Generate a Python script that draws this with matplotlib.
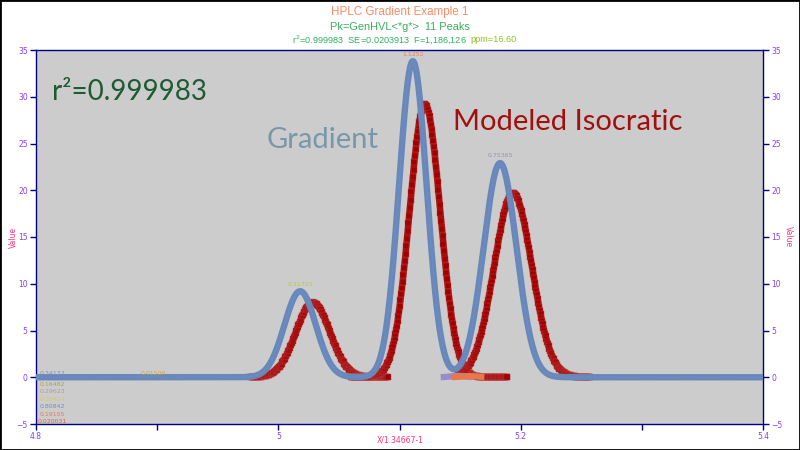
import numpy as np
import matplotlib
matplotlib.use("Agg")
import matplotlib.pyplot as plt
from matplotlib.patches import Rectangle

# ---- data ----
grad_centers = [5.018, 5.111, 5.183]
grad_heights = [9.2, 33.8, 22.9]
grad_widths = [0.0130, 0.0114, 0.0136]

iso_centers = [5.0286, 5.121, 5.1937]
iso_heights = [8.0, 29.2, 19.7]
iso_widths = [0.0140, 0.0127, 0.0155]
iso_starts = [4.977, 5.060, 5.148]
iso_ends = [5.0905, 5.1895, 5.2572]

minor_centers = [5.148, 5.158]
minor_heights = [0.15, 0.12]
minor_widths = [0.006, 0.007]
minor_starts = [5.134, 5.143]
minor_ends = [5.160, 5.170]
minor_colors = ["#9a8ccc", "#e8784c"]

peak_labels = ["0.31725", "1.1252", "0.75365"]
peak_label_colors = ["#b8c840", "#e8805c", "#9494b4"]

side_labels = ["0.16482", "0.29623", "0.30454", "0.80842", "0.19105", "0.020031"]
side_label_colors = ["#a8a840", "#b89898", "#e8c840", "#7090c8", "#e87858", "#e86030"]

x_min, x_max = 4.8, 5.4
y_min, y_max = -5, 35
y_ticks = list(range(-5, 40, 5))
x_ticks = [4.8, 4.9, 5.0, 5.1, 5.2, 5.3, 5.4]
x_tick_labels = ["4.8", "", "5", "", "5.2", "", "5.4"]


def gauss(x, c, h, w):
    return h * np.exp(-0.5 * ((x - c) / w) ** 2)


fig = plt.figure(figsize=(8, 4.5), dpi=100)
fig.patch.set_facecolor("white")
ax = fig.add_axes([36 / 800, 1 - 424 / 450, (763 - 36) / 800, (424 - 50) / 450])
ax.set_facecolor("#cccccc")

tick_col = "#8040ff"
spine_col = "#000080"
label_col = "#ff3377"

# gradient (blue) full curve
xs = np.linspace(x_min, x_max, 3000)
yg = np.zeros_like(xs)
for c, h, w in zip(grad_centers, grad_heights, grad_widths):
    yg += gauss(xs, c, h, w)

# isocratic (red) truncated peaks
for c, h, w, s, e in zip(iso_centers, iso_heights, iso_widths, iso_starts, iso_ends):
    xr = np.arange(s, e, 0.0006)
    yr = gauss(xr, c, h, w)
    ax.plot(xr, yr, color="#a00000", lw=4.6, solid_capstyle="butt", zorder=3)
    ax.plot(xr, yr, ls="none", marker="s", ms=4.0, mfc="#a00000",
            mec="#c04848", mew=0.3, zorder=3)

# minor components
for c, h, w, s, e, col in zip(minor_centers, minor_heights, minor_widths,
                              minor_starts, minor_ends, minor_colors):
    xm = np.arange(s, e, 0.0006)
    ym = gauss(xm, c, h, w)
    ax.plot(xm, ym, color=col, lw=4.5, zorder=4, solid_capstyle="butt")

ax.plot(xs, yg, color="#6888bc", lw=4.6, zorder=5, solid_capstyle="butt")
ax.plot(xs, yg, color="#7c98c8", lw=0.6, ls=(0, (1, 2)), zorder=6)

ax.set_xlim(x_min, x_max)
ax.set_ylim(y_min, y_max)
ax.set_yticks(y_ticks)
ax.set_xticks(x_ticks)
ax.set_xticklabels(x_tick_labels)

for sp in ax.spines.values():
    sp.set_color(spine_col)
    sp.set_linewidth(1.0)

ax.tick_params(axis="both", direction="out", colors=spine_col, labelcolor=tick_col,
               labelsize=5.5, length=4, width=1.0, pad=2)
ax.tick_params(axis="y", left=True, right=True, labelleft=True, labelright=True)
ax.tick_params(axis="x", top=False)

fig.text(13 / 800, 1 - 237 / 450, "Value", color=label_col, fontsize=5.5,
         rotation=90, ha="center", va="center")
fig.text(788 / 800, 1 - 237 / 450, "Value", color=label_col, fontsize=5.5,
         rotation=270, ha="center", va="center")
fig.text(400 / 800, 1 - 440 / 450, "X/1.34667-1", color=label_col, fontsize=5.5,
         ha="center", va="center")

# titles
fig.text(0.5, 1 - 12 / 450, "HPLC Gradient Example 1", color="#f88c68",
         fontsize=8.4, ha="center", va="center", family="Liberation Sans")
fig.text(0.5, 1 - 27 / 450, "Pk=GenHVL<*g*>  11 Peaks", color="#38b060",
         fontsize=7.9, ha="center", va="center", family="Liberation Sans")
fig.text(292 / 800, 1 - 40 / 450, "r$^2$=0.999983  SE=0.0203913  F=1,186,126", color="#30b060",
         fontsize=6.6, ha="left", va="center", family="Liberation Sans")
fig.text(517 / 800, 1 - 40 / 450, "ppm=16.60", color="#90c020",
         fontsize=6.6, ha="right", va="center", family="Liberation Sans")

# big annotations
ax.text(4.8132, 30.5, "r²=0.999983", color="#1e5a32", fontsize=20,
        family="Lato", ha="left", va="center")
ax.text(4.9906, 25.4, "Gradient", color="#7898aa", fontsize=21,
        family="Lato", ha="left", va="center")
ax.text(5.1442, 27.3, "Modeled Isocratic", color="#a01010", fontsize=21,
        family="Lato", ha="left", va="center")

# peak labels
for c, h, lab, col in zip(grad_centers, grad_heights, peak_labels, peak_label_colors):
    ax.text(c, h + 0.5, lab, color=col, fontsize=4.5, ha="center", va="bottom", zorder=7)

ax.text(4.803, 0.1, "0.34137", color="#8090b8", fontsize=4.5, ha="left", va="bottom", zorder=7)
ax.text(4.886, 0.1, "0.01509", color="#c8a848", fontsize=4.5, ha="left", va="bottom", zorder=7)
for i, (lab, col) in enumerate(zip(side_labels, side_label_colors)):
    ax.text(4.803 if i < 5 else 4.801, -0.75 - i * 0.8, lab, color=col, fontsize=4.5,
            ha="left", va="center", zorder=7)

# figure border
fig.patches.append(Rectangle((0, 0), 1, 1, transform=fig.transFigure, fill=False,
                             edgecolor="black", lw=2, zorder=10))

fig.savefig("out.png", dpi=100, facecolor="white")
